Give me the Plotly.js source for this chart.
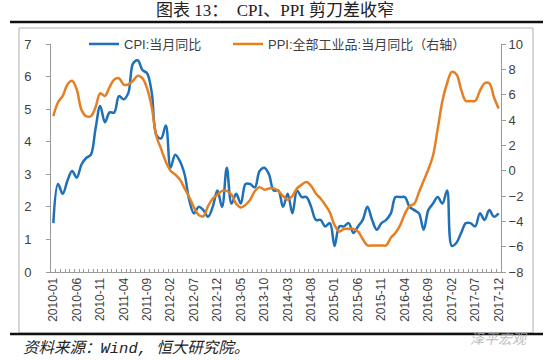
<!DOCTYPE html>
<html>
<head>
<meta charset="utf-8">
<script src="https://cdn.plot.ly/plotly-3.0.1.min.js"></script>
<style>html,body{margin:0;padding:0;background:#fff;}#chart{width:550px;height:360px;}</style>
</head>
<body>
<div id="chart"></div>
<script>
// Months 2010-01 .. 2017-12
const years = [2010, 2011, 2012, 2013, 2014, 2015, 2016, 2017];
const months = [];
years.forEach(y => { for (let m = 1; m <= 12; m++) months.push(y + '-' + String(m).padStart(2, '0')); });

// CPI: YoY (%), left axis
const cpi = [
  1.5, 2.7, 2.4, 2.8, 3.1, 2.9, 3.3, 3.5, 3.6, 4.4, 5.1, 4.6,
  4.9, 4.9, 5.4, 5.3, 5.5, 6.4, 6.5, 6.2, 6.1, 5.5, 4.2, 4.1,
  4.5, 3.2, 3.6, 3.4, 3.0, 2.2, 1.8, 2.0, 1.9, 1.7, 2.0, 2.5,
  2.0, 3.2, 2.1, 2.4, 2.1, 2.7, 2.7, 2.6, 3.1, 3.2, 3.0, 2.5,
  2.5, 2.0, 2.4, 1.8, 2.5, 2.3, 2.3, 2.0, 1.6, 1.6, 1.4, 1.5,
  0.8, 1.4, 1.4, 1.5, 1.2, 1.4, 1.6, 2.0, 1.6, 1.3, 1.5, 1.6,
  1.8, 2.3, 2.3, 2.3, 2.0, 1.9, 1.8, 1.3, 1.9, 2.1, 2.3, 2.1,
  2.5, 0.8, 0.9, 1.2, 1.5, 1.5, 1.4, 1.8, 1.6, 1.9, 1.7, 1.8
];

// PPI: all industrial products YoY (%), right axis
const ppi = [
  4.3, 5.4, 5.9, 6.8, 7.1, 6.4, 4.8, 4.3, 4.3, 5.0, 6.1, 5.9,
  6.6, 7.2, 7.3, 6.8, 6.8, 7.1, 7.5, 7.3, 6.5, 5.0, 2.7, 1.7,
  0.7, 0.0, -0.3, -0.7, -1.4, -2.1, -2.9, -3.5, -3.6, -2.8, -2.2, -1.9,
  -1.6, -1.6, -1.9, -2.6, -2.9, -2.7, -2.3, -1.6, -1.3, -1.5, -1.4, -1.4,
  -1.6, -2.0, -2.3, -2.0, -1.4, -1.1, -0.9, -1.2, -1.8, -2.2, -2.7, -3.3,
  -4.3, -4.8, -4.6, -4.6, -4.6, -4.8, -5.4, -5.9, -5.9, -5.9, -5.9, -5.9,
  -5.3, -4.9, -4.3, -3.4, -2.8, -2.6, -1.7, -0.8, 0.1, 1.2, 3.3, 5.5,
  6.9, 7.8, 7.6, 6.4, 5.5, 5.5, 5.5, 6.3, 6.9, 6.9, 5.8, 4.9
];

const labelStep = 5;
const xIdx = months.map((_, i) => i);
const tickIdx = xIdx.filter(i => i % labelStep === 0);
const tickLabels = tickIdx.map(i => months[i]);

const axisFont = {family: 'Liberation Sans, Arial, sans-serif', size: 13, color: '#404040'};
const cjkSans = 'Liberation Sans, Noto Sans CJK SC, sans-serif';

const traces = [
  {x: xIdx, y: cpi, name: 'CPI:当月同比', type: 'scatter', mode: 'lines',
   line: {color: '#1f70b6', width: 2.5, shape: 'spline', smoothing: 1}, xaxis: 'x', yaxis: 'y', legend: 'legend'},
  {x: xIdx, y: ppi, name: 'PPI:全部工业品:当月同比（右轴）', type: 'scatter', mode: 'lines',
   line: {color: '#e57f24', width: 2.5, shape: 'spline', smoothing: 1}, xaxis: 'x', yaxis: 'y2', legend: 'legend2'},
  // empty trace so the monthly tick axis is drawn
  {x: [], y: [], type: 'scatter', mode: 'lines', xaxis: 'x2', yaxis: 'y', showlegend: false, hoverinfo: 'skip'}
];

// pixel helpers -> paper coords (plot area x 51..501, y 44..272)
const px = v => (v - 51) / 450;
const py = v => (272 - v) / 228;

const legendBase = {orientation: 'h', xanchor: 'left', y: py(44), yanchor: 'middle',
  bgcolor: 'rgba(0,0,0,0)', font: {family: cjkSans, size: 13, color: '#404040'}, itemwidth: 30};

const layout = {
  width: 550, height: 360,
  margin: {l: 51, r: 49, t: 44, b: 88},
  paper_bgcolor: '#ffffff', plot_bgcolor: 'rgba(0,0,0,0)',
  showlegend: true,
  title: {text: '图表 13：  CPI、PPI 剪刀差收窄', x: 0.5, xanchor: 'center', y: 1 - 10 / 360, yanchor: 'middle',
          font: {family: 'Liberation Serif, Noto Sans CJK SC, serif', size: 17, color: '#222', weight: 'normal'}},
  xaxis: {
    range: [-0.5, 95.5], tickmode: 'array', tickvals: tickIdx, ticktext: tickLabels, tickangle: -90,
    ticks: '', showgrid: false, zeroline: false, showline: true, linecolor: '#9a9a9a', linewidth: 1,
    tickfont: {family: 'Liberation Sans, Arial, sans-serif', size: 12, color: '#404040'}
  },
  xaxis2: {
    range: [-0.5, 95.5], overlaying: 'x', anchor: 'y', side: 'bottom',
    tickmode: 'linear', tick0: -0.5, dtick: 1, ticks: 'inside', ticklen: 3, tickcolor: '#9a9a9a', tickwidth: 1,
    showticklabels: false, showgrid: false, zeroline: false, showline: false
  },
  yaxis: {
    range: [0, 7], dtick: 1, tick0: 0, ticks: 'outside', ticklen: 4, tickcolor: '#9a9a9a',
    showgrid: false, zeroline: false, showline: true, linecolor: '#9a9a9a', linewidth: 1,
    tickfont: axisFont, ticklabelstandoff: 12
  },
  yaxis2: {
    range: [-8, 10], dtick: 2, tick0: -8, ticks: 'outside', ticklen: 4, tickcolor: '#9a9a9a',
    overlaying: 'y', side: 'right', anchor: 'x',
    showgrid: false, zeroline: false, showline: true, linecolor: '#9a9a9a', linewidth: 1,
    tickfont: axisFont
  },
  legend: Object.assign({}, legendBase, {x: px(84)}),
  legend2: Object.assign({}, legendBase, {x: px(228)}),
  shapes: [
    {type: 'rect', xref: 'paper', yref: 'paper', x0: px(19), x1: px(533), y0: py(333), y1: py(28),
     line: {color: '#b0b0b0', width: 1}, fillcolor: 'rgba(0,0,0,0)', layer: 'below'},
    {type: 'line', xref: 'paper', yref: 'paper', x0: px(10), x1: px(543), y0: py(22), y1: py(22),
     line: {color: '#111', width: 2.5}},
    {type: 'line', xref: 'paper', yref: 'paper', x0: px(10), x1: px(543), y0: py(334), y1: py(334),
     line: {color: '#111', width: 2.5}}
  ],
  annotations: [
    {text: '资料来源：Wind, 恒大研究院。', xref: 'paper', yref: 'paper', x: px(21), y: py(348),
     xanchor: 'left', yanchor: 'middle', showarrow: false,
     font: {family: 'Liberation Mono, Noto Sans CJK SC, monospace', size: 15.5, color: '#222', style: 'italic'}},
    {text: '泽平宏观', xref: 'paper', yref: 'paper', x: px(530), y: py(338),
     xanchor: 'right', yanchor: 'middle', showarrow: false,
     font: {family: 'Noto Sans CJK SC, sans-serif', size: 14, color: 'rgba(170,170,170,0.8)', style: 'italic'}}
  ]
};

Plotly.newPlot('chart', traces, layout, {staticPlot: true, displayModeBar: false});
</script>
</body>
</html>
